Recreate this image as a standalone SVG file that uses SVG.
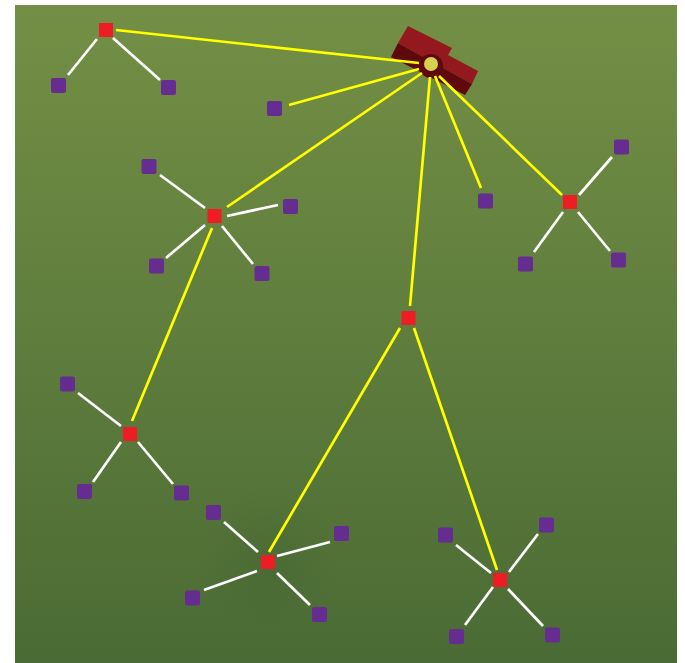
<svg xmlns="http://www.w3.org/2000/svg" width="685" height="663" viewBox="0 0 685 663">
<style>
.w{stroke:#fff;stroke-width:2.7;fill:none}
.y{stroke:#ff0;stroke-width:2.7;fill:none}
.r{fill:#ee1c25}
.p{fill:#652d90}
</style>
<defs>
<linearGradient id="bg" x1="0" y1="0" x2="0" y2="1"><stop offset="0" stop-color="#748f45"/><stop offset="1" stop-color="#4a6b35"/></linearGradient>
<radialGradient id="sh"><stop offset="0" stop-color="#3f5f33" stop-opacity=".3"/><stop offset="1" stop-color="#3f5f33" stop-opacity="0"/></radialGradient>
</defs>
<rect width="685" height="663" fill="#fff"/>
<rect x="15" y="5" width="662" height="658" fill="url(#bg)"/>
<circle cx="268" cy="562" r="72" fill="url(#sh)"/>
<g id="hub">
<polygon points="408,26 452,48 448,55 478,71 472,84 398,43" fill="#93191e"/>
<polygon points="398,43 472,84 465,95 391,57" fill="#5f090c"/>
<circle cx="431" cy="66" r="12" fill="#5f090c"/>
<circle cx="431" cy="64" r="7" fill="#d8d04f"/>
</g>
<g id="connectors">
<path class="y" d="M116 30L419 63M289 105L419 69M227 207L422 73M410 306L430 77M481 188L435 76M562 195L439 76M212 228L132 421M400 328L269 552M414 328L497 570"/>
<path class="w" d="M97 39L68 75M113 38L160 80M160 175L205 208M227 216L278 205M166 258L205 225M253 264L222 226M78 393L121 426M93 482L121 442M173 484L138 442M224 522L258 552M277 556L330 542M204 590L257 571M310 605L277 573M456 545L491 573M538 534L509 572M465 625L493 587M543 626L508 589M612 157L579 195M534 252L563 212M610 251L578 212"/>
</g>
<g id="n1"><rect class="r" x="99" y="23" width="14" height="14"/></g>
<g id="n2"><rect class="r" x="207.500" y="209" width="14" height="14"/></g>
<g id="n3"><rect class="r" x="123" y="427" width="14" height="14"/></g>
<g id="n4"><rect class="r" x="401.500" y="311" width="14" height="14"/></g>
<g id="n5"><rect class="r" x="261" y="555" width="14" height="14"/></g>
<g id="n6"><rect class="r" x="493" y="573" width="14" height="14"/></g>
<g id="n7"><rect class="r" x="563" y="195" width="14" height="14"/></g>
<g id="leaves">
<rect class="p" x="51" y="78" width="15" height="15" rx="2"/>
<rect class="p" x="161" y="80" width="15" height="15" rx="2"/>
<rect class="p" x="267" y="101" width="15" height="15" rx="2"/>
<rect class="p" x="141.500" y="159" width="15" height="15" rx="2"/>
<rect class="p" x="283" y="199" width="15" height="15" rx="2"/>
<rect class="p" x="149" y="258.500" width="15" height="15" rx="2"/>
<rect class="p" x="254.500" y="266" width="15" height="15" rx="2"/>
<rect class="p" x="478" y="193.500" width="15" height="15" rx="2"/>
<rect class="p" x="614" y="139.500" width="15" height="15" rx="2"/>
<rect class="p" x="518" y="256.500" width="15" height="15" rx="2"/>
<rect class="p" x="611" y="252.500" width="15" height="15" rx="2"/>
<rect class="p" x="60" y="376.500" width="15" height="15" rx="2"/>
<rect class="p" x="77" y="484" width="15" height="15" rx="2"/>
<rect class="p" x="174" y="485.500" width="15" height="15" rx="2"/>
<rect class="p" x="206" y="505" width="15" height="15" rx="2"/>
<rect class="p" x="334" y="526" width="15" height="15" rx="2"/>
<rect class="p" x="185" y="590.500" width="15" height="15" rx="2"/>
<rect class="p" x="312" y="607" width="15" height="15" rx="2"/>
<rect class="p" x="438" y="527.500" width="15" height="15" rx="2"/>
<rect class="p" x="539" y="517.500" width="15" height="15" rx="2"/>
<rect class="p" x="449" y="629" width="15" height="15" rx="2"/>
<rect class="p" x="545" y="627.500" width="15" height="15" rx="2"/>
</g>
</svg>
